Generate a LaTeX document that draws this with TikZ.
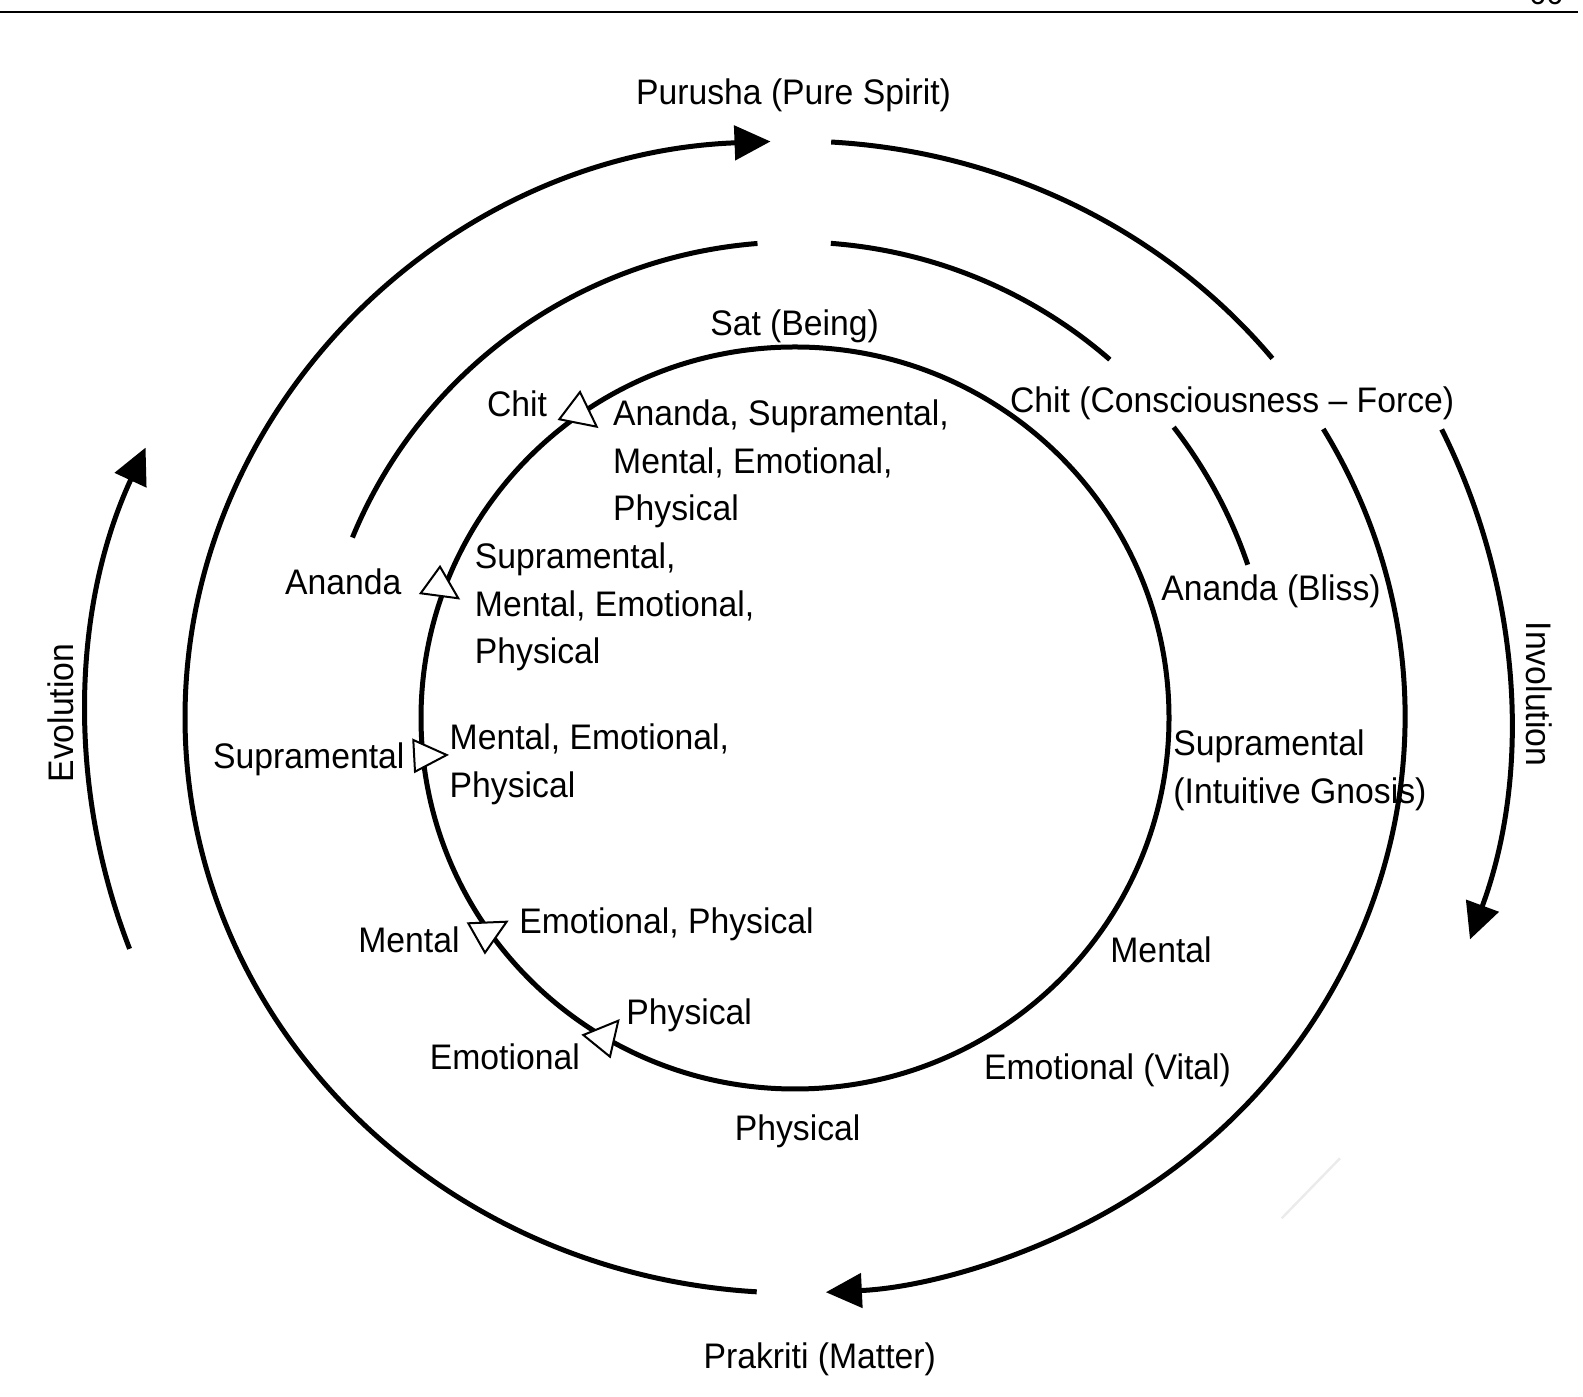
\documentclass[tikz,border=0pt]{standalone}
\usepackage{fontspec}
\setmainfont{Liberation Sans}[FakeStretch=0.95]
\usetikzlibrary{arrows.meta,calc}
\begin{document}
\begin{tikzpicture}[x=0.5pt,y=0.5pt,
  ring/.style={line width=2.5pt},
  bigtip/.style={-{Triangle[length=18pt,width=17pt]}},
  opentri/.style={draw, fill=white, line width=1pt, line join=miter},
  lbl/.style={inner sep=0pt, font=\fontsize{17.75pt}{23.75pt}\selectfont},
]
\useasboundingbox (0,0) rectangle (1583,1396);
% centres
\coordinate (C) at (795,679);
\coordinate (Ci) at (795,678);
\coordinate (A) at (798,679);
% top rule and clipped page number
\coordinate (ruleL) at (0,1384);
\coordinate (ruleR) at (1578,1384);
\draw[line width=1.35pt] (ruleL) -- (ruleR);
\node[anchor=base, inner sep=0pt, font=\fontsize{16pt}{18pt}\selectfont] (pagenum) at (1546,1391) {66};
% outer ring (Purusha -> Prakriti)
\draw[ring,bigtip] ($(C)+(266.4:305pt and 288pt)$) arc[start angle=266.4, end angle=92.3, x radius=305pt, y radius=288pt];
\draw[ring] ($(C)+(86.6:305pt and 288pt)$) arc[start angle=86.6, end angle=38.5, x radius=305pt, y radius=288pt];
\draw[ring,bigtip] ($(C)+(30:305pt and 288pt)$) arc[start angle=30, end angle=-87.1, x radius=305pt, y radius=288pt];
% middle ring
\draw[ring] ($(C)+(157.8:239pt and 237.5pt)$) arc[start angle=157.8, end angle=94.5, x radius=239pt, y radius=237.5pt];
\draw[ring] ($(C)+(85.7:239pt and 237.5pt)$) arc[start angle=85.7, end angle=48.8, x radius=239pt, y radius=237.5pt];
\draw[ring] ($(C)+(37.6:239pt and 237.5pt)$) arc[start angle=37.6, end angle=18.7, x radius=239pt, y radius=237.5pt];
% inner circle
\draw[ring] (Ci) ellipse[x radius=187pt, y radius=185.5pt];
% evolution / involution arrows
\draw[ring,bigtip] ($(A)+(200.15:356pt and 336.5pt)$) arc[start angle=200.15, end angle=156.4, x radius=356pt, y radius=336.5pt];
\draw[ring,bigtip] ($(A)+(25.3:356pt and 336.5pt)$) arc[start angle=25.3, end angle=-19.3, x radius=356pt, y radius=336.5pt];
% open triangles on the inner circle
\draw[opentri] (580,1004) -- (559.3,976.7) -- (596.7,969.3) -- cycle;
\draw[opentri] (440,829.3) -- (420.7,802.7) -- (458.3,797.7) -- cycle;
\draw[opentri] (413.3,656) -- (415,624.3) -- (446.7,641) -- cycle;
\draw[opentri] (468.3,472.7) -- (506.7,474.3) -- (485,443.3) -- cycle;
\draw[opentri] (583.3,361) -- (618.3,375.3) -- (610,339.3) -- cycle;
% faint stroke
\draw[black!8, line width=1.2pt] (1281.7,177.7) -- (1340,237.7);
% labels
\node[lbl, anchor=base] (purusha) at (793.5,1291) {Purusha (Pure Spirit)};
\node[lbl, anchor=base] (sat) at (794.6,1060) {Sat (Being)};
\node[lbl, anchor=base] (chitL) at (517,979) {Chit};
\node[lbl, anchor=base west] (b1a) at (612.8,970) {Ananda, Supramental,};
\node[lbl, anchor=base west] (b1b) at (612.8,922.5) {Mental, Emotional,};
\node[lbl, anchor=base west] (b1c) at (612.8,875) {Physical};
\node[lbl, anchor=base west] (chitR) at (1009.6,983) {Chit (Consciousness \textendash{} Force)};
\node[lbl, anchor=base] (anandaL) at (343.3,801.5) {Ananda};
\node[lbl, anchor=base west] (b2a) at (474.5,827) {Supramental,};
\node[lbl, anchor=base west] (b2b) at (474.5,779.5) {Mental, Emotional,};
\node[lbl, anchor=base west] (b2c) at (474.5,732) {Physical};
\node[lbl, anchor=base west] (anandaR) at (1161,795.4) {Ananda (Bliss)};
\node[lbl, anchor=base east] (supraL) at (404.8,627) {Supramental};
\node[lbl, anchor=base west] (b3a) at (449.3,646) {Mental, Emotional,};
\node[lbl, anchor=base west] (b3b) at (449.3,598.5) {Physical};
\node[lbl, anchor=base west] (supraRa) at (1173,640) {Supramental};
\node[lbl, anchor=base west] (supraRb) at (1173,592.5) {(Intuitive Gnosis)};
\node[lbl, anchor=base, rotate=90] (evol) at (73,683) {Evolution};
\node[lbl, anchor=base, rotate=-90] (invol) at (1526,702) {Involution};
\node[lbl, anchor=base] (mentalL) at (408.9,443) {Mental};
\node[lbl, anchor=base west] (b4) at (519,462) {Emotional, Physical};
\node[lbl, anchor=base] (mentalR) at (1161,433) {Mental};
\node[lbl, anchor=base west] (physL) at (626,371.4) {Physical};
\node[lbl, anchor=base] (emoL) at (504.8,326) {Emotional};
\node[lbl, anchor=base] (emoVital) at (1107.5,316) {Emotional (Vital)};
\node[lbl, anchor=base] (physB) at (797.6,255.3) {Physical};
\node[lbl, anchor=base] (prakriti) at (819.8,27) {Prakriti (Matter)};
\end{tikzpicture}
\end{document}
